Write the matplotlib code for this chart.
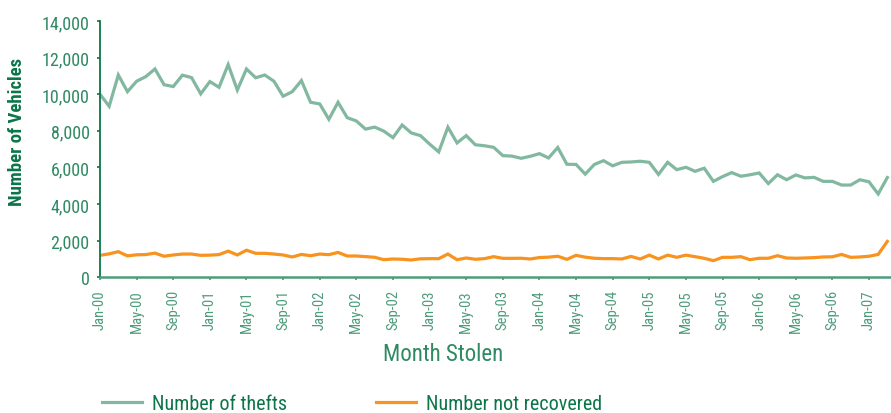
import matplotlib
matplotlib.use("Agg")
import matplotlib.pyplot as plt
from matplotlib import font_manager
import numpy as np

# monthly series, Jan-00 .. Mar-07
months = [f"{m}-{y:02d}" for y in range(0, 8)
          for m in ["Jan", "Feb", "Mar", "Apr", "May", "Jun",
                    "Jul", "Aug", "Sep", "Oct", "Nov", "Dec"]][:87]

thefts = [10000, 9340, 11050, 10140, 10710, 10960, 11380, 10520, 10420, 11040,
          10910, 10020, 10690, 10380, 11620, 10230, 11380, 10900, 11050, 10710,
          9890, 10140, 10745, 9560, 9470, 8630, 9560, 8720, 8540, 8095,
          8205, 7985, 7630, 8320, 7885, 7740, 7280, 6850, 8200, 7340,
          7740, 7240, 7185, 7100, 6645, 6620, 6500, 6610, 6755, 6520,
          7090, 6175, 6165, 5635, 6165, 6370, 6090, 6280, 6300, 6340,
          6280, 5620, 6280, 5880, 6010, 5790, 5960, 5240, 5500, 5720,
          5520, 5600, 5700, 5120, 5600, 5330, 5590, 5430, 5460, 5240,
          5240, 5040, 5040, 5330, 5215, 4550, 5450]

not_recovered = [1200, 1280, 1400, 1170, 1230, 1240, 1320, 1150, 1220, 1270,
                 1270, 1200, 1210, 1240, 1430, 1220, 1480, 1310, 1310, 1270,
                 1220, 1110, 1250, 1180, 1270, 1236, 1360, 1164, 1164, 1130,
                 1093, 962, 1000, 985, 945, 1010, 1018, 1018, 1270, 960,
                 1055, 985, 1020, 1127, 1036, 1036, 1040, 1000, 1080, 1100,
                 1150, 980, 1200, 1100, 1040, 1020, 1020, 1000, 1140, 1000,
                 1210, 1000, 1210, 1093, 1210, 1127, 1038, 910, 1090, 1090,
                 1127, 962, 1040, 1040, 1180, 1055, 1040, 1055, 1075, 1110,
                 1120, 1250, 1090, 1110, 1150, 1250, 1960]

series_labels = ["Number of thefts", "Number not recovered"]
y_ticks = [0, 2000, 4000, 6000, 8000, 10000, 12000, 14000]

available = {f.name for f in font_manager.fontManager.ttflist}
family = next((f for f in ["Liberation Sans Narrow", "Roboto Condensed",
                           "Arial Narrow", "Liberation Sans"] if f in available),
              "DejaVu Sans")
plt.rcParams["font.family"] = [family, "DejaVu Sans"]

dark_green = "#0b7548"
mid_green = "#2f8a63"
light_green = "#4d9c7b"
theft_col = "#82b8a0"
orange = "#f7931e"

fig = plt.figure(figsize=(8.91, 4.14), dpi=100)
ax = fig.add_axes([100 / 891, 1 - 278.3 / 414, 1 - 100 / 891, (278.3 - 22) / 414])

x = np.arange(len(months))
ax.plot(x, thefts, color=theft_col, lw=2.3, label=series_labels[0],
        solid_joinstyle="miter")
ax.plot(x, not_recovered, color=orange, lw=2.3, label=series_labels[1],
        solid_joinstyle="miter")

ax.set_xlim(0, 86.4)
ax.set_ylim(0, 14000)
ax.set_yticks(y_ticks)
ax.set_yticklabels([f"{v:,}" for v in y_ticks], fontsize=13, color=mid_green)
ax.set_xticks(x[::4])
ax.set_xticklabels(months[::4], rotation=90, fontsize=10.5, color=light_green)

for s in ["top", "right"]:
    ax.spines[s].set_visible(False)
ax.spines["left"].set_color(dark_green)
ax.spines["left"].set_linewidth(1.3)
ax.spines["bottom"].set_color(light_green)
ax.spines["bottom"].set_linewidth(1.8)
ax.tick_params(axis="y", length=2.5, width=1.2, color=dark_green, pad=5)
ax.tick_params(axis="x", length=2.5, width=1.2, color=light_green, pad=6)

fig.text(17 / 891, 1 - 132 / 414, "Number of Vehicles", rotation=90,
         ha="center", va="center", fontsize=13.5, fontweight="bold",
         color=dark_green)
fig.text(443 / 891, 1 - 355 / 414, "Month Stolen", ha="center", va="center",
         fontsize=16.5, color=mid_green)

fig.legend(loc="center", bbox_to_anchor=(352 / 891, 1 - 405 / 414), ncol=2,
           frameon=False, fontsize=14.5, handlelength=2.0, handletextpad=0.5,
           columnspacing=4.4, labelcolor=dark_green)

fig.savefig("out.png", dpi=100)
